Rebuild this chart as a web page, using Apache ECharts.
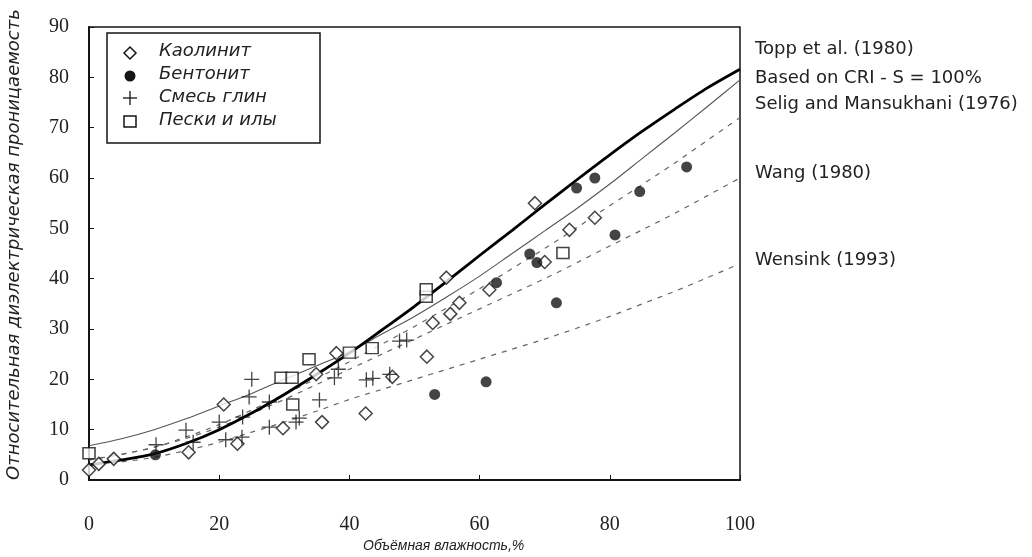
<!DOCTYPE html>
<html>
<head>
<meta charset="utf-8">
<script src="https://cdn.jsdelivr.net/npm/echarts@6/dist/echarts.min.js"></script>
<style>html,body{margin:0;padding:0;background:#fff}#c{width:1032px;height:557px}</style>
</head>
<body>
<div id="c"></div>
<script>
// ---- data ----
const xTicks = [0, 20, 40, 60, 80, 100];
const yTicks = [0, 10, 20, 30, 40, 50, 60, 70, 80, 90];
const legendNames = ['Каолинит', 'Бентонит', 'Смесь глин', 'Пески и илы'];
const curveNames = ['Topp et al. (1980)', 'Based on CRI - S = 100%', 'Selig and Mansukhani (1976)', 'Wang (1980)', 'Wensink (1993)'];

const kaolinite = [[0,2],[1.5,3.2],[3.8,4.2],[15.3,5.5],[20.7,15],[22.8,7.2],[29.8,10.3],[34.9,21],[35.8,11.5],[38,25.2],[42.5,13.2],[46.6,20.5],[51.9,24.5],[52.8,31.2],[55.5,33],[56.9,35.2],[54.9,40.2],[61.5,37.8],[68.5,55],[70,43.3],[73.8,49.7],[77.7,52.1]];
const bentonite = [[10.2,5],[53.1,17],[61,19.5],[62.6,39.2],[67.7,44.9],[68.8,43.2],[71.8,35.2],[74.9,58],[77.7,60],[80.8,48.7],[84.6,57.3],[91.8,62.2]];
const clayMix = [[10.3,7],[14.9,9.9],[16,7.5],[20,11.5],[21,8],[23.5,8.5],[23.6,12.5],[24.6,16.5],[25,20],[27.7,15.5],[27.7,10.5],[31.8,11.5],[32.3,12.3],[35.4,15.9],[37.7,20.3],[38.3,22],[42.6,19.9],[43.6,20.2],[46.2,21],[47.7,27.6],[48.8,27.8]];
const sandsSilts = [[0,5.3],[29.5,20.3],[31.2,20.3],[31.3,15],[33.8,24],[40,25.3],[43.5,26.2],[51.8,36.4],[51.8,37.9],[72.8,45.1]];

const curveX = [0,5,10,15,20,25,30,35,40,45,50,55,60,65,70,75,80,85,90,95,100];
const toppY  = [3,4,5.2,7.3,10,13.3,17,21,25.2,29.8,34.5,39.5,44.6,49.6,54.7,59.7,64.6,69.3,73.7,77.9,81.6];
const criY   = [6.8,8.2,10,12.2,14.7,17.2,20,22.7,25.5,29,32.5,36.4,40.5,45,49.5,54,58.8,63.9,69,74.2,79.5];
const seligY = [4,5.1,6.5,8.6,11,13.9,17,20.2,23.5,27,30.5,34.2,38,42,46,50.2,54.5,58.7,63,67.5,72];
const wangY  = [4,5.1,6.5,8.3,10.5,13.2,16,19,22,25,28,31,34,37,40,43.2,46.5,49.7,53,56.5,60];
const wensY  = [3,3.6,4.5,5.9,7.5,9.5,11.5,13.7,16,18,20,22,24,26,28,30.2,32.5,35,37.5,40.2,43];

const pair = (xs, ys) => xs.map((x, i) => [x, ys[i]]);

const chart = echarts.init(document.getElementById('c'));
const ink = '#151515';
const plusPath = 'path://M0,5L10,5M5,0L5,10';

function lineSeries(name, ys, opt) {
  return Object.assign({
    name: name, type: 'line', data: pair(curveX, ys), smooth: 0.3,
    showSymbol: false, silent: true, z: 2
  }, opt);
}

chart.setOption({
  animation: false,
  backgroundColor: '#fff',
  grid: { left: 89, right: 292, top: 27, bottom: 77, show: true, borderColor: ink, borderWidth: 1.5 },
  xAxis: {
    type: 'value', min: 0, max: 100, interval: 20,
    axisLine: { lineStyle: { color: ink, width: 2 } },
    axisTick: { inside: true, length: 5, lineStyle: { color: ink } },
    splitLine: { show: false },
    axisLabel: { margin: 35, fontFamily: 'Liberation Serif', fontSize: 20, color: '#222',
      formatter: v => xTicks.includes(v) ? String(v) : '' }
  },
  yAxis: {
    type: 'value', min: 0, max: 90, interval: 10,
    axisLine: { show: true, lineStyle: { color: ink, width: 2 } },
    axisTick: { show: true, inside: true, length: 5, lineStyle: { color: ink } },
    splitLine: { show: false },
    axisLabel: { margin: 20, fontFamily: 'Liberation Serif', fontSize: 20, color: '#222',
      formatter: v => yTicks.includes(v) ? String(v) : '' }
  },
  legend: { show: false },
  graphic: [
    { type: 'rect', shape: { x: 107, y: 33, width: 213, height: 110 }, style: { fill: '#fff', stroke: ink, lineWidth: 1.5 }, z: 10 },
    // legend icons
    { type: 'polygon', shape: { points: [[124,53],[130,47],[136,53],[130,59]] }, style: { fill: '#fff', stroke: ink, lineWidth: 1.5 }, z: 11 },
    { type: 'circle', shape: { cx: 130, cy: 76, r: 5.5 }, style: { fill: ink }, z: 11 },
    { type: 'line', shape: { x1: 123, y1: 98, x2: 137, y2: 98 }, style: { stroke: ink, lineWidth: 1.3 }, z: 11 },
    { type: 'line', shape: { x1: 130, y1: 91, x2: 130, y2: 105 }, style: { stroke: ink, lineWidth: 1.3 }, z: 11 },
    { type: 'rect', shape: { x: 124, y: 116, width: 12, height: 11 }, style: { fill: '#fff', stroke: ink, lineWidth: 1.5 }, z: 11 },
    // legend texts
    ...legendNames.map((t, i) => ({ type: 'text', left: 159, top: 53 + i * 23 - 11, z: 11,
      style: { text: t, fontFamily: 'DejaVu Sans', fontStyle: 'italic', fontSize: 18, fill: '#222' } })),
    // curve labels on the right
    ...curveNames.map((t, i) => ({ type: 'text', left: 755, top: [51, 80, 106, 175, 262][i] - 11,
      style: { text: t, fontFamily: 'DejaVu Sans', fontSize: 18, fill: '#222' } })),
    // axis titles
    { type: 'text', left: 363, top: 539, style: { text: 'Объёмная влажность,%', fontFamily: 'Liberation Sans', fontStyle: 'italic', fontSize: 14, fill: '#222' } },
    { type: 'text', x: 5, y: 480, rotation: Math.PI / 2,
      style: { text: 'Относительная диэлектрическая проницаемость', fontFamily: 'DejaVu Sans', fontStyle: 'italic', fontSize: 18, fill: '#222' } }
  ],
  series: [
    lineSeries(curveNames[0], toppY, { lineStyle: { color: '#000', width: 2.8 }, z: 4 }),
    lineSeries(curveNames[1], criY, { lineStyle: { color: '#555', width: 1.1 } }),
    lineSeries(curveNames[2], seligY, { lineStyle: { color: '#666', width: 1.2, type: [5, 6] } }),
    lineSeries(curveNames[3], wangY, { lineStyle: { color: '#666', width: 1.2, type: [5, 6] } }),
    lineSeries(curveNames[4], wensY, { lineStyle: { color: '#666', width: 1.2, type: [5, 6] } }),
    { name: legendNames[0], type: 'scatter', data: kaolinite, symbol: 'diamond', symbolSize: 13,
      itemStyle: { color: '#fff', borderColor: ink, borderWidth: 1.5 }, z: 5 },
    { name: legendNames[1], type: 'scatter', data: bentonite, symbol: 'circle', symbolSize: 11,
      itemStyle: { color: ink }, z: 5 },
    { name: legendNames[2], type: 'scatter', data: clayMix, symbol: plusPath, symbolSize: 15,
      itemStyle: { color: 'none', borderColor: ink, borderWidth: 1.3 }, z: 5 },
    { name: legendNames[3], type: 'scatter', data: sandsSilts, symbol: 'rect', symbolSize: [12, 11],
      itemStyle: { color: '#fff', borderColor: ink, borderWidth: 1.5 }, z: 5 }
  ]
});
</script>
</body>
</html>
